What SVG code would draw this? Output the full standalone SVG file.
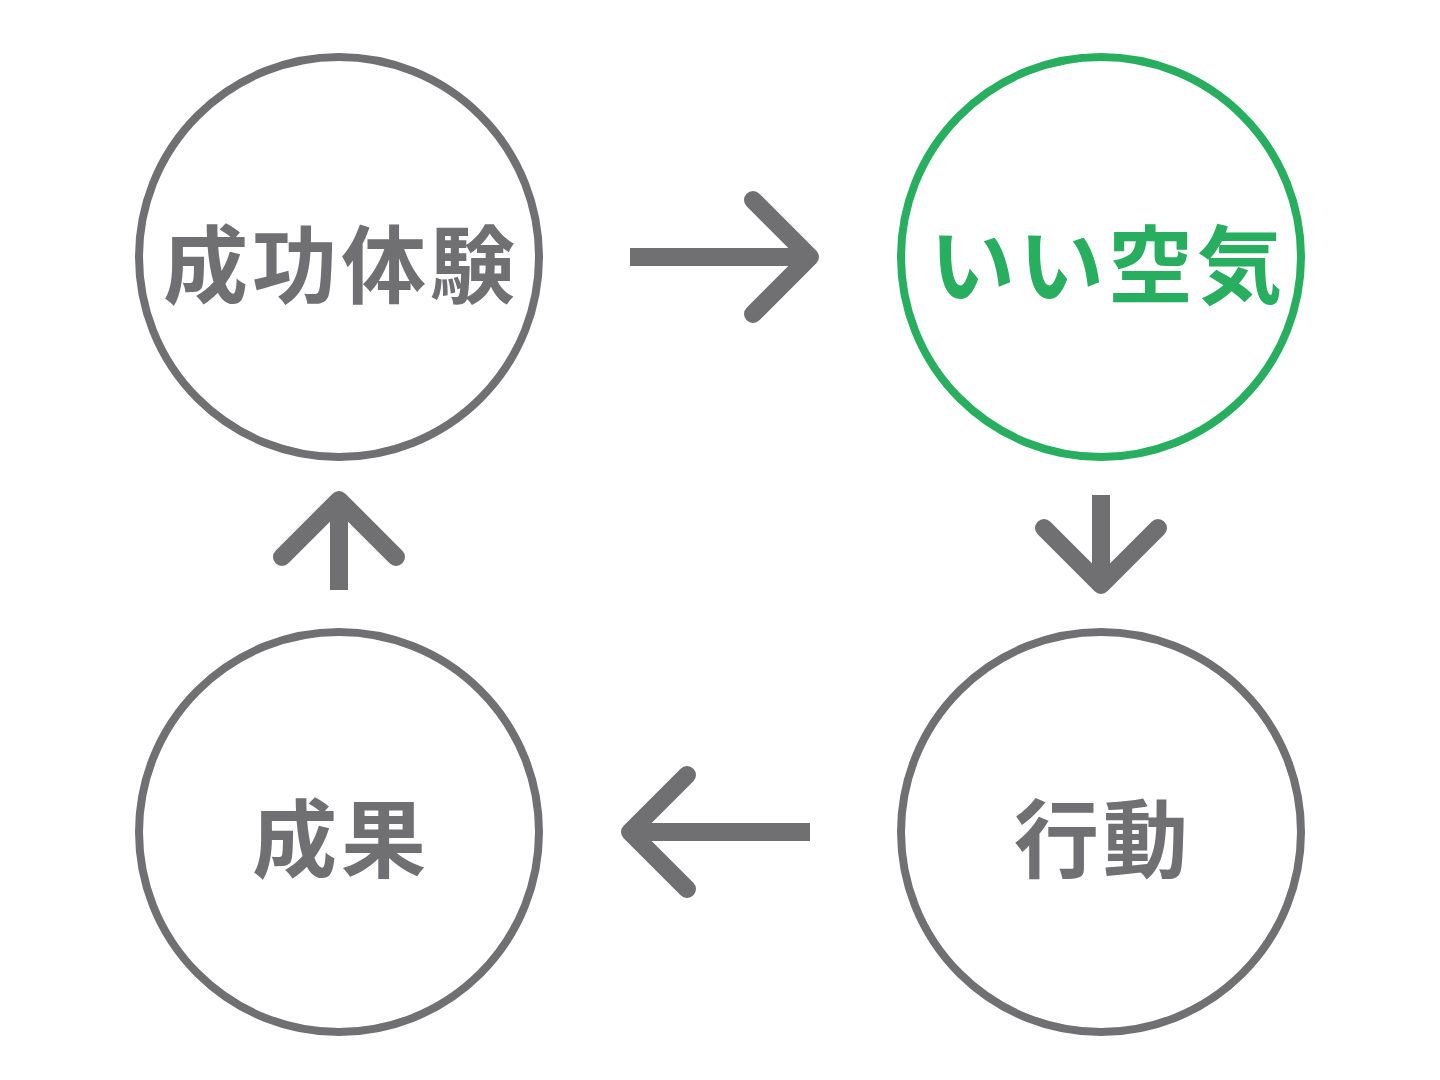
<svg xmlns="http://www.w3.org/2000/svg" width="1440" height="1080" viewBox="0 0 1440 1080">
<style>
.ring{fill:none;stroke:#707072;stroke-width:8}
.ring.g{stroke:#27ae5e}
.lbl{font-family:"Noto Sans CJK JP","Noto Sans",sans-serif;font-weight:700;font-size:85px;fill:#707072;text-anchor:middle;letter-spacing:4px}
.lbl.g{fill:#27ae5e}
.shaft{stroke:#707072;stroke-width:18;fill:none;stroke-linecap:butt}
.head{stroke:#707072;stroke-width:18;fill:none;stroke-linecap:round;stroke-linejoin:round}
</style>
<rect width="1440" height="1080" fill="#fff"/>
<g id="node-seikou-taiken">
<circle class="ring" cx="339" cy="257" r="200"/>
<text class="lbl" x="341" y="297">成功体験</text>
</g>
<g id="node-ii-kuuki">
<circle class="ring g" cx="1101" cy="257" r="200"/>
<text class="lbl g" x="1108" y="297">いい空気</text>
</g>
<g id="node-koudou">
<circle class="ring" cx="1101" cy="832" r="200"/>
<text class="lbl" x="1103" y="871">行動</text>
</g>
<g id="node-seika">
<circle class="ring" cx="339" cy="832" r="200"/>
<text class="lbl" x="341" y="871">成果</text>
</g>
<g id="connectors">
<path class="shaft" d="M630 257H808"/>
<path class="head" d="M753 200L810 257L753 314"/>
<path class="shaft" d="M1101 495V583"/>
<path class="head" d="M1044 528L1101 585L1158 528"/>
<path class="shaft" d="M810 832H632"/>
<path class="head" d="M687 775L630 832L687 889"/>
<path class="shaft" d="M339 590V502"/>
<path class="head" d="M282 557L339 500L396 557"/>
</g>
</svg>
